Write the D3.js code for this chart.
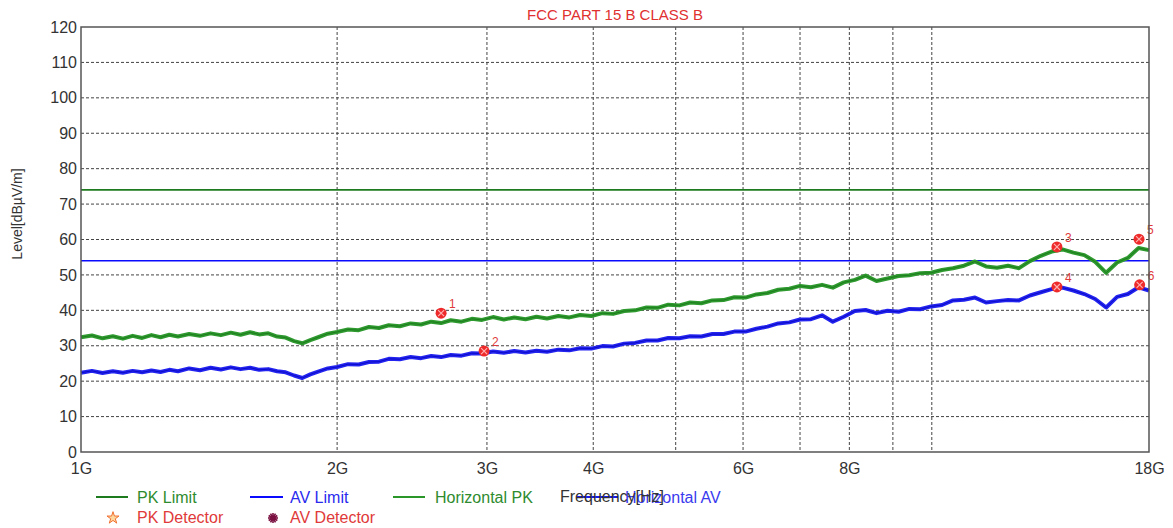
<!DOCTYPE html>
<html>
<head>
<meta charset="utf-8">
<script src="https://cdn.jsdelivr.net/npm/d3@7/dist/d3.min.js"></script>
<style>
  body { margin: 0; background: #fff; }
  svg { display: block; font-family: "Liberation Sans", Arial, sans-serif; }
</style>
</head>
<body>
<svg id="chart" width="1173" height="528"></svg>
<script>
// ---- data ----
const freqGHz = [1.00,1.03,1.06,1.09,1.12,1.15,1.18,1.21,1.24,1.27,1.30,1.34,1.38,1.42,1.46,1.50,1.54,1.58,1.62,1.66,1.70,1.74,1.78,1.82,1.86,1.90,1.95,2.00,2.06,2.12,2.18,2.24,2.30,2.37,2.44,2.51,2.58,2.65,2.72,2.80,2.88,2.96,3.05,3.14,3.23,3.33,3.43,3.53,3.64,3.75,3.86,3.98,4.10,4.22,4.35,4.48,4.62,4.76,4.90,5.05,5.20,5.36,5.52,5.69,5.86,6.04,6.22,6.41,6.60,6.80,7.00,7.21,7.43,7.65,7.88,8.12,8.36,8.61,8.87,9.14,9.41,9.69,9.98,10.28,10.59,10.91,11.24,11.58,11.93,12.29,12.66,13.04,13.43,13.83,14.24,14.67,15.11,15.56,16.03,16.51,17.00,17.50,18.00];
const horizontalPK = [32.4,32.9,32.1,32.7,32.0,32.8,32.2,33.0,32.4,33.1,32.6,33.3,32.8,33.5,33.0,33.7,33.1,33.8,33.2,33.5,32.6,32.3,31.3,30.7,31.6,32.4,33.4,33.9,34.6,34.4,35.3,35.0,35.8,35.5,36.3,36.0,36.8,36.4,37.2,36.8,37.6,37.3,38.1,37.4,38.0,37.5,38.2,37.7,38.4,38.0,38.7,38.4,39.2,39.0,39.8,40.0,40.8,40.7,41.6,41.4,42.2,42.0,42.8,42.9,43.7,43.6,44.5,44.9,45.8,46.1,46.9,46.5,47.2,46.4,47.9,48.6,49.8,48.3,49.0,49.7,49.9,50.5,50.6,51.4,51.9,52.6,53.8,52.4,52.0,52.6,51.9,53.9,55.4,56.6,57.2,56.3,55.6,53.7,50.6,53.5,54.8,57.6,57.0];
const horizontalAV = [22.4,22.9,22.3,22.8,22.4,22.9,22.5,23.0,22.6,23.2,22.8,23.6,23.1,23.8,23.3,23.9,23.4,23.8,23.2,23.4,22.8,22.5,21.6,20.9,21.9,22.7,23.6,24.0,24.8,24.7,25.4,25.5,26.3,26.2,26.8,26.5,27.1,26.8,27.4,27.2,27.9,27.8,28.4,28.0,28.5,28.1,28.6,28.3,28.9,28.7,29.3,29.2,29.9,29.8,30.6,30.8,31.5,31.5,32.2,32.1,32.7,32.6,33.3,33.3,34.0,34.0,34.8,35.4,36.3,36.6,37.4,37.5,38.6,36.8,38.2,39.8,40.1,39.2,39.9,39.6,40.4,40.3,41.1,41.5,42.8,43.0,43.6,42.2,42.6,42.9,42.8,44.2,45.1,46.0,46.4,45.6,44.6,43.2,40.8,43.8,44.6,46.5,45.6];
const pkLimit = 74;
const avLimit = 54;
const pkMarkers = [{f:2.65, v:39.2, n:"1"}, {f:14.03, v:57.9, n:"3"}, {f:17.52, v:60.1, n:"5"}];
const avMarkers = [{f:2.977, v:28.5, n:"2"}, {f:14.03, v:46.6, n:"4"}, {f:17.55, v:47.2, n:"6"}];
const yTicks = [0,10,20,30,40,50,60,70,80,90,100,110,120];
const xGrid = [2,3,4,5,6,7,8,9,10];
const xTickLabels = [{f:1,t:"1G"},{f:2,t:"2G"},{f:3,t:"3G"},{f:4,t:"4G"},{f:6,t:"6G"},{f:8,t:"8G"},{f:18,t:"18G"}];

// ---- layout ----
const L = 81, R = 1149, T = 27, B = 452;
const FONT = "Liberation Sans, Arial, sans-serif";
const svg = d3.select("#chart");
const x = d3.scaleLog().domain([1, 18]).range([L, R]);
const y = d3.scaleLinear().domain([0, 120]).range([B, T]);

// grid
const g = svg.append("g");
g.selectAll(".hg").data(yTicks.filter(d => d > 0 && d < 120)).enter().append("line")
  .attr("x1", L).attr("x2", R).attr("y1", d => y(d)).attr("y2", d => y(d))
  .attr("stroke", "#444").attr("stroke-width", 1).attr("stroke-dasharray", "3,2");
g.selectAll(".vg").data(xGrid).enter().append("line")
  .attr("x1", d => x(d)).attr("x2", d => x(d)).attr("y1", T).attr("y2", B)
  .attr("stroke", "#444").attr("stroke-width", 1).attr("stroke-dasharray", "3,2");

// axes tick labels
const yAxis = d3.axisLeft(y).tickValues(yTicks).tickSize(0).tickPadding(4);
const ya = svg.append("g").attr("transform", `translate(${L},0)`).call(yAxis);
ya.select(".domain").remove();
ya.selectAll("text").attr("font-size", 16).attr("fill", "#333").attr("font-family", FONT);

const xAxis = d3.axisBottom(x).tickValues(xTickLabels.map(d => d.f))
  .tickFormat((d, i) => xTickLabels[i].t).tickSize(0).tickPadding(11);
const xa = svg.append("g").attr("transform", `translate(0,${B})`).call(xAxis);
xa.select(".domain").remove();
xa.selectAll("text").attr("font-size", 16).attr("fill", "#333").attr("font-family", FONT);

// limits
svg.append("line").attr("x1", L).attr("x2", R).attr("y1", y(pkLimit)).attr("y2", y(pkLimit))
  .attr("stroke", "#1e7a1e").attr("stroke-width", 1.6);
svg.append("line").attr("x1", L).attr("x2", R).attr("y1", y(avLimit)).attr("y2", y(avLimit))
  .attr("stroke", "#0a0aff").attr("stroke-width", 1.6);

// traces
const line = d3.line().x((d, i) => x(freqGHz[i])).y(d => y(d));
svg.append("path").datum(horizontalPK).attr("d", line)
  .attr("fill", "none").attr("stroke", "#2f9a2f").attr("stroke-width", 4).attr("stroke-linejoin", "round");
svg.append("path").datum(horizontalPK).attr("d", line)
  .attr("fill", "none").attr("stroke", "#1d7d1d").attr("stroke-width", 1).attr("stroke-linejoin", "round");
svg.append("path").datum(horizontalAV).attr("d", line)
  .attr("fill", "none").attr("stroke", "#2424f0").attr("stroke-width", 4).attr("stroke-linejoin", "round");
svg.append("path").datum(horizontalAV).attr("d", line)
  .attr("fill", "none").attr("stroke", "#0b0bc8").attr("stroke-width", 1).attr("stroke-linejoin", "round");

// markers
function drawMarkers(data) {
  const mg = svg.append("g");
  const m = mg.selectAll("g").data(data).enter().append("g")
    .attr("transform", d => `translate(${x(d.f)},${y(d.v)})`);
  m.append("circle").attr("r", 5.5).attr("fill", "#ee2a2a");
  m.append("path").attr("d", "M-3,-3L3,3M-3,3L3,-3").attr("stroke", "#ffb0b0").attr("stroke-width", 1.2);
  m.append("text").attr("x", 8).attr("y", -5).text(d => d.n)
    .attr("font-size", 12).attr("fill", "#e03a3a");
}
drawMarkers(pkMarkers);
drawMarkers(avMarkers);

// frame
svg.append("rect").attr("x", L).attr("y", T).attr("width", R - L).attr("height", B - T)
  .attr("fill", "none").attr("stroke", "#555").attr("stroke-width", 1.5);

// title
svg.append("text").attr("x", (L + R) / 2).attr("y", 20).attr("text-anchor", "middle")
  .attr("font-size", 15).attr("fill", "#e03030").text("FCC PART 15 B CLASS B");

// y label
svg.append("text").attr("transform", "translate(22,214) rotate(-90)").attr("text-anchor", "middle")
  .attr("font-size", 14).attr("fill", "#333").text("Level[dBµV/m]");

// legend
const lg = svg.append("g").attr("font-size", 16);
const legendLines = [
  {x1: 96, x2: 128, tx: 137, color: "#1e7a1e", text: "PK Limit", tc: "#2e8b2e"},
  {x1: 250, x2: 283, tx: 290, color: "#0a0aff", text: "AV Limit", tc: "#2a2aee"},
  {x1: 393, x2: 425, tx: 435, color: "#2a962a", text: "Horizontal PK", tc: "#2e8b2e"},
  {x1: 577, x2: 618, tx: 625, color: "#1a1aee", text: "Horizontal AV", tc: "#3a3aee"}
];
legendLines.forEach(d => {
  lg.append("line").attr("x1", d.x1).attr("x2", d.x2).attr("y1", 497).attr("y2", 497)
    .attr("stroke", d.color).attr("stroke-width", 2);
  lg.append("text").attr("x", d.tx).attr("y", 503).attr("fill", d.tc).text(d.text);
});
// x axis title (overlaps legend as in reference)
svg.append("text").attr("x", 560).attr("y", 502).attr("font-size", 16).attr("fill", "#333")
  .text("Frequency[Hz]");

// detector legend
const star = d3.symbol().type(d3.symbolStar).size(45);
lg.append("path").attr("d", star()).attr("transform", "translate(113,518)")
  .attr("fill", "#ffd8a0").attr("stroke", "#f07030").attr("stroke-width", 1);
lg.append("text").attr("x", 137).attr("y", 523).attr("fill", "#e03a3a").text("PK Detector");
const ast = lg.append("g").attr("transform", "translate(273,518)");
[0, 30, 60, 90, 120, 150].forEach(a => {
  ast.append("line").attr("x1", -5).attr("x2", 5).attr("y1", 0).attr("y2", 0)
    .attr("transform", `rotate(${a})`).attr("stroke", "#7a1040").attr("stroke-width", 1.6);
});
ast.append("circle").attr("r", 2.8).attr("fill", "#7a1040");
lg.append("text").attr("x", 290).attr("y", 523).attr("fill", "#e03a3a").text("AV Detector");
</script>
</body>
</html>
